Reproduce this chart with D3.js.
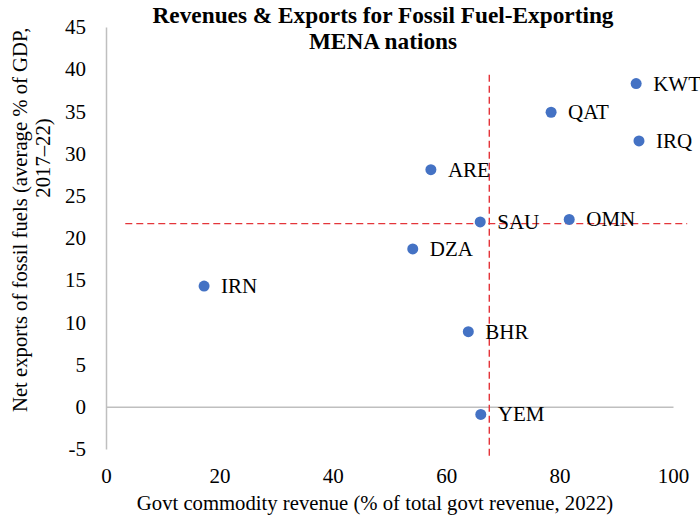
<!DOCTYPE html>
<html>
<head>
<meta charset="utf-8">
<script src="https://cdn.jsdelivr.net/npm/d3@7"></script>
<style>
  body { margin: 0; background: #fff; }
  svg { font-family: "Liberation Serif", "Times New Roman", serif; }
</style>
</head>
<body>
<div id="chart"></div>
<script>
(() => {
  const width = 700, height = 518;

  // data
  const countries = ["KWT", "QAT", "IRQ", "ARE", "SAU", "OMN", "DZA", "IRN", "BHR", "YEM"];
  const commodityRevenue = [93.5, 78.5, 94.0, 57.3, 66.0, 81.7, 54.1, 17.3, 63.9, 66.1];
  const fossilExports = [38.3, 34.9, 31.5, 28.1, 21.9, 22.2, 18.7, 14.3, 8.9, -0.9];

  const xTicks = [0, 20, 40, 60, 80, 100];
  const yTicks = [-5, 0, 5, 10, 15, 20, 25, 30, 35, 40, 45];

  // dashed reference lines (value, from, to)
  const vLine = [67.6, -5.8, 39.7];
  const hLine = [21.7, 3.4, 102.5];

  const titleLines = ["Revenues & Exports for Fossil Fuel-Exporting", "MENA nations"];
  const xTitle = "Govt commodity revenue (% of total govt revenue, 2022)";
  const yTitle = ["Net exports of fossil fuels (average % of GDP,", "2017\u201322)"];

  const points = countries.map((c, i) => ({ code: c, x: commodityRevenue[i], y: fossilExports[i] }));

  const svg = d3.select("#chart").append("svg")
    .attr("width", width)
    .attr("height", height);

  const x = d3.scaleLinear().domain([0, 100]).range([106, 673]);
  const y = d3.scaleLinear().domain([-5, 45]).range([449, 27]);

  // title
  svg.append("g")
    .selectAll("text")
    .data(titleLines)
    .join("text")
    .attr("x", 383)
    .attr("y", (d, i) => 23 + i * 26)
    .attr("text-anchor", "middle")
    .attr("font-weight", "bold")
    .attr("font-size", 23.3)
    .attr("fill", "#000")
    .text(d => d);

  // axes (no ticks, gray lines)
  const yAxis = svg.append("g")
    .attr("transform", `translate(${x(0)},0)`)
    .call(d3.axisLeft(y).tickValues(yTicks).tickSize(0).tickPadding(20).tickFormat(d => String(d)));
  yAxis.select(".domain").attr("stroke", "#bfbfbf").attr("stroke-width", 1.5);
  yAxis.selectAll("text")
    .attr("font-family", "Liberation Serif, serif")
    .attr("font-size", 21)
    .attr("fill", "#000");

  const xAxis = svg.append("g")
    .attr("transform", `translate(0,${y(0)})`)
    .call(d3.axisBottom(x).tickValues(xTicks).tickSize(0).tickFormat(d => String(d)));
  xAxis.select(".domain").attr("stroke", "#bfbfbf").attr("stroke-width", 1.5);
  // labels sit low, below the plot
  xAxis.selectAll("text")
    .attr("y", y(-5) - y(0) + 19)
    .attr("font-family", "Liberation Serif, serif")
    .attr("font-size", 21)
    .attr("fill", "#000");

  // axis titles
  svg.append("text")
    .attr("x", 375)
    .attr("y", 510)
    .attr("text-anchor", "middle")
    .attr("font-size", 20.7)
    .text(xTitle);

  svg.append("text")
    .attr("transform", "translate(27,412) rotate(-90)")
    .attr("text-anchor", "start")
    .attr("font-size", 20.7)
    .text(yTitle[0]);

  svg.append("text")
    .attr("transform", "translate(50,158) rotate(-90)")
    .attr("text-anchor", "middle")
    .attr("font-size", 20.7)
    .text(yTitle[1]);

  // dashed reference lines
  svg.append("line")
    .attr("x1", x(vLine[0])).attr("x2", x(vLine[0]))
    .attr("y1", y(vLine[1])).attr("y2", y(vLine[2]))
    .attr("stroke", "#e4353a")
    .attr("stroke-width", 1.4)
    .attr("stroke-dasharray", "7,4");

  svg.append("line")
    .attr("x1", x(hLine[1])).attr("x2", x(hLine[2]))
    .attr("y1", y(hLine[0])).attr("y2", y(hLine[0]))
    .attr("stroke", "#e4353a")
    .attr("stroke-width", 1.4)
    .attr("stroke-dasharray", "7,4");

  // points + labels
  const pts = svg.append("g")
    .selectAll("g")
    .data(points)
    .join("g")
    .attr("transform", d => `translate(${x(d.x)},${y(d.y)})`);

  pts.append("circle")
    .attr("r", 5.5)
    .attr("fill", "#4472c4");

  pts.append("text")
    .attr("x", 17)
    .attr("y", 7)
    .attr("font-size", 21)
    .attr("fill", "#000")
    .text(d => d.code);
})();
</script>
</body>
</html>
